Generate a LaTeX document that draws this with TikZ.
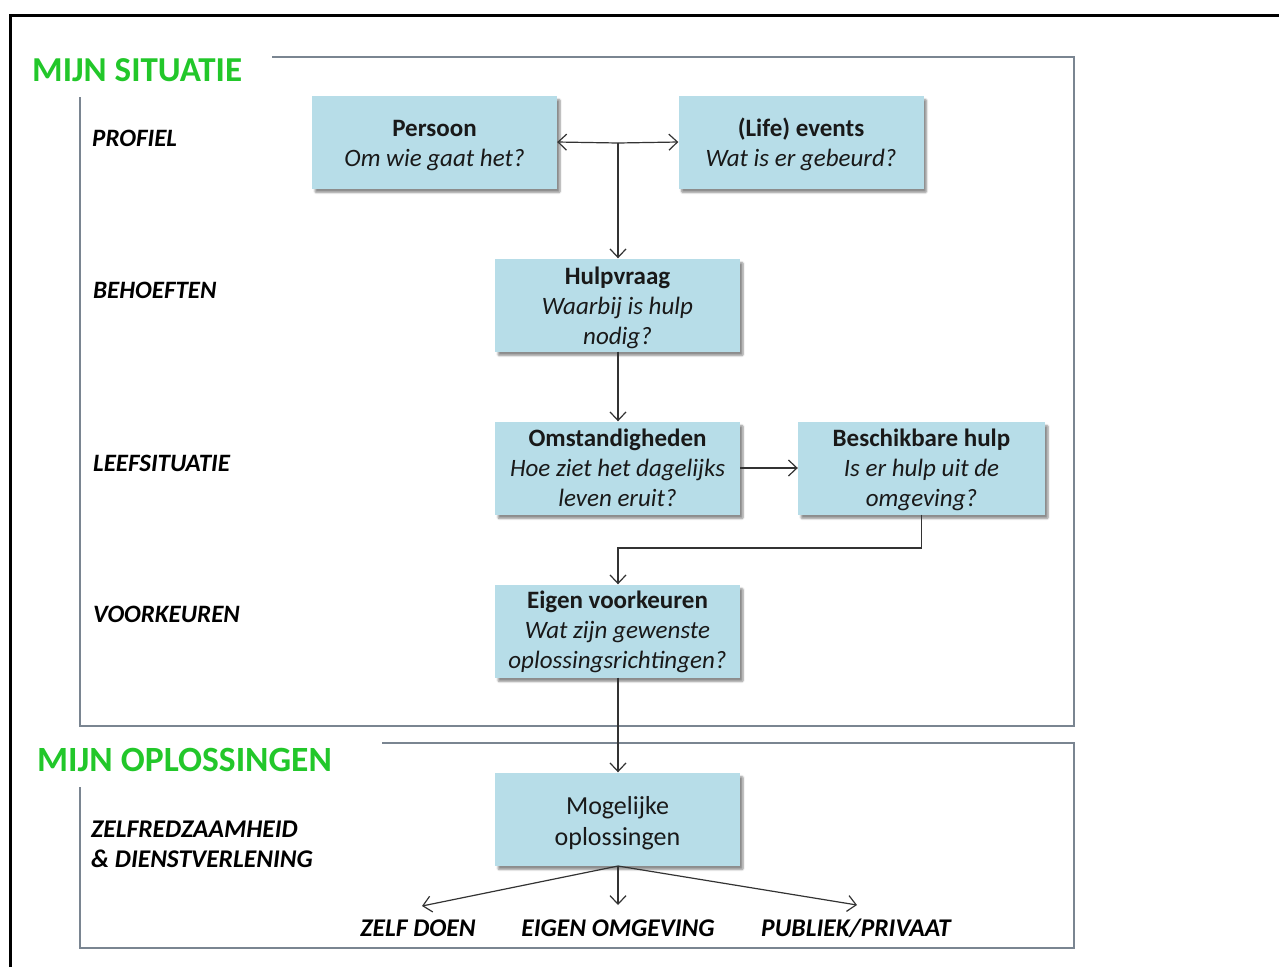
\documentclass[tikz,border=0pt]{standalone}
\usepackage{fontspec}
\setmainfont{Carlito}
\usetikzlibrary{arrows.meta,shadows,shadows.blur,calc}
\definecolor{boxblue}{HTML}{B7DDE8}
\definecolor{titlegreen}{HTML}{22C72A}
\definecolor{framegrey}{HTML}{7A8591}
\definecolor{linegrey}{HTML}{333333}
\newcommand\lowtext[2]{\raisebox{-#1}[\height][\depth]{\begin{tabular}{@{}c@{}}#2\end{tabular}}}
\begin{document}
\begin{tikzpicture}[x=1pt,y=-1pt,
  stepbox/.style={draw=none, fill=boxblue, minimum width=245pt, minimum height=93pt,
    align=center, inner sep=0pt, text=black!90,
    font=\fontsize{25}{30}\selectfont,
    blur shadow={shadow xshift=3pt, shadow yshift=-4pt, shadow blur steps=6, shadow blur extra rounding=1pt, shadow opacity=45}},
  sidelabel/.style={anchor=west, inner sep=0pt, font=\fontsize{25}{30}\selectfont\bfseries\itshape},
  sectiontitle/.style={anchor=west, inner sep=0pt, text=titlegreen, font=\fontsize{35}{40}\selectfont\bfseries},
  bottomlabel/.style={inner sep=0pt, font=\fontsize{25.5}{28}\selectfont\bfseries\itshape},
  section/.style={draw=framegrey, line width=1.4pt},
  conn/.style={draw=linegrey, line width=1.2pt},
  arr/.style={conn, -{Straight Barb[length=8.5pt,width=16pt,line width=1.2pt]}}
]
\useasboundingbox (0,0) rectangle (1279,967);
% outer frame
\draw[line width=3pt] (10,967) -- (10,15) -- (1279,15);

% sections
\draw[section] (272,57) -- (1074,57) -- (1074,726) -- (80,726) -- (80,97);
\draw[section] (382,743) -- (1074,743) -- (1074,948) -- (80,948) -- (80,787);

% titles
\node[sectiontitle] (t1) at (32,70) {MIJN SITUATIE};
\node[sectiontitle, font=\fontsize{35.5}{40}\selectfont\bfseries] (t2) at (37,760) {MIJN OPLOSSINGEN};

% side labels
\node[sidelabel] (l1) at (92,138) {PROFIEL};
\node[sidelabel] (l2) at (93,290) {BEHOEFTEN};
\node[sidelabel] (l3) at (93,463) {LEEFSITUATIE};
\node[sidelabel] (l4) at (93,614) {VOORKEUREN};
\node[sidelabel, align=left, font=\fontsize{25.5}{30}\selectfont\bfseries\itshape] (l5) at (91,844) {ZELFREDZAAMHEID\\\&\ DIENSTVERLENING};

% boxes
\node[stepbox] (pers) at (434.5,142) {\lowtext{3pt}{\textbf{Persoon}\\\textit{Om wie gaat het?}}};
\node[stepbox] (evts) at (801,142) {\lowtext{3pt}{\textbf{(Life) events}\\\textit{Wat is er gebeurd?}}};
\node[stepbox] (hulp) at (617.5,305) {\lowtext{3pt}{\textbf{Hulpvraag}\\\textit{Waarbij is hulp}\\\textit{nodig?}}};
\node[stepbox] (omst) at (617.5,468) {\lowtext{2pt}{\textbf{Omstandigheden}\\\textit{Hoe ziet het dagelijks}\\\textit{leven eruit?}}};
\node[stepbox, minimum width=247pt] (besc) at (921.5,468) {\lowtext{2pt}{\textbf{Beschikbare hulp}\\\textit{Is er hulp uit de}\\\textit{omgeving?}}};
\node[stepbox] (eign) at (617.5,631) {\lowtext{1pt}{\textbf{Eigen voorkeuren}\\\textit{Wat zijn gewenste}\\\textit{oplossingsrichtingen?}}};
\node[stepbox, font=\fontsize{26}{31}\selectfont] (mogl) at (617.5,819) {\lowtext{5pt}{Mogelijke\\oplossingen}};

% bottom labels
\node[bottomlabel] (zd) at (418,928) {ZELF DOEN};
\node[bottomlabel] (eo) at (618,928) {EIGEN OMGEVING};
\node[bottomlabel] (pp) at (856,928) {PUBLIEK/PRIVAAT};

% connectors
\coordinate (j) at (618,143);
\draw[arr] (j) -- (pers.east);
\draw[arr] (j) -- (evts.west);
\draw[arr] (j) -- (hulp.north -| j);
\draw[arr] (hulp.south -| j) -- (omst.north -| j);
\draw[arr] (omst.east) -- (besc.west);
\coordinate (k) at (618,548);
\draw[arr] (besc.south) |- (k) -- (eign.north -| k);
\draw[arr] (eign.south -| k) -- (mogl.north -| k);
\coordinate (m) at (618,866);
\coordinate (zdt) at (422,906);
\coordinate (eot) at (618,905);
\coordinate (ppt) at (857,905);
\draw[arr] (m) -- (zdt);
\draw[arr] (m) -- (eot);
\draw[arr] (m) -- (ppt);
\end{tikzpicture}
\end{document}
